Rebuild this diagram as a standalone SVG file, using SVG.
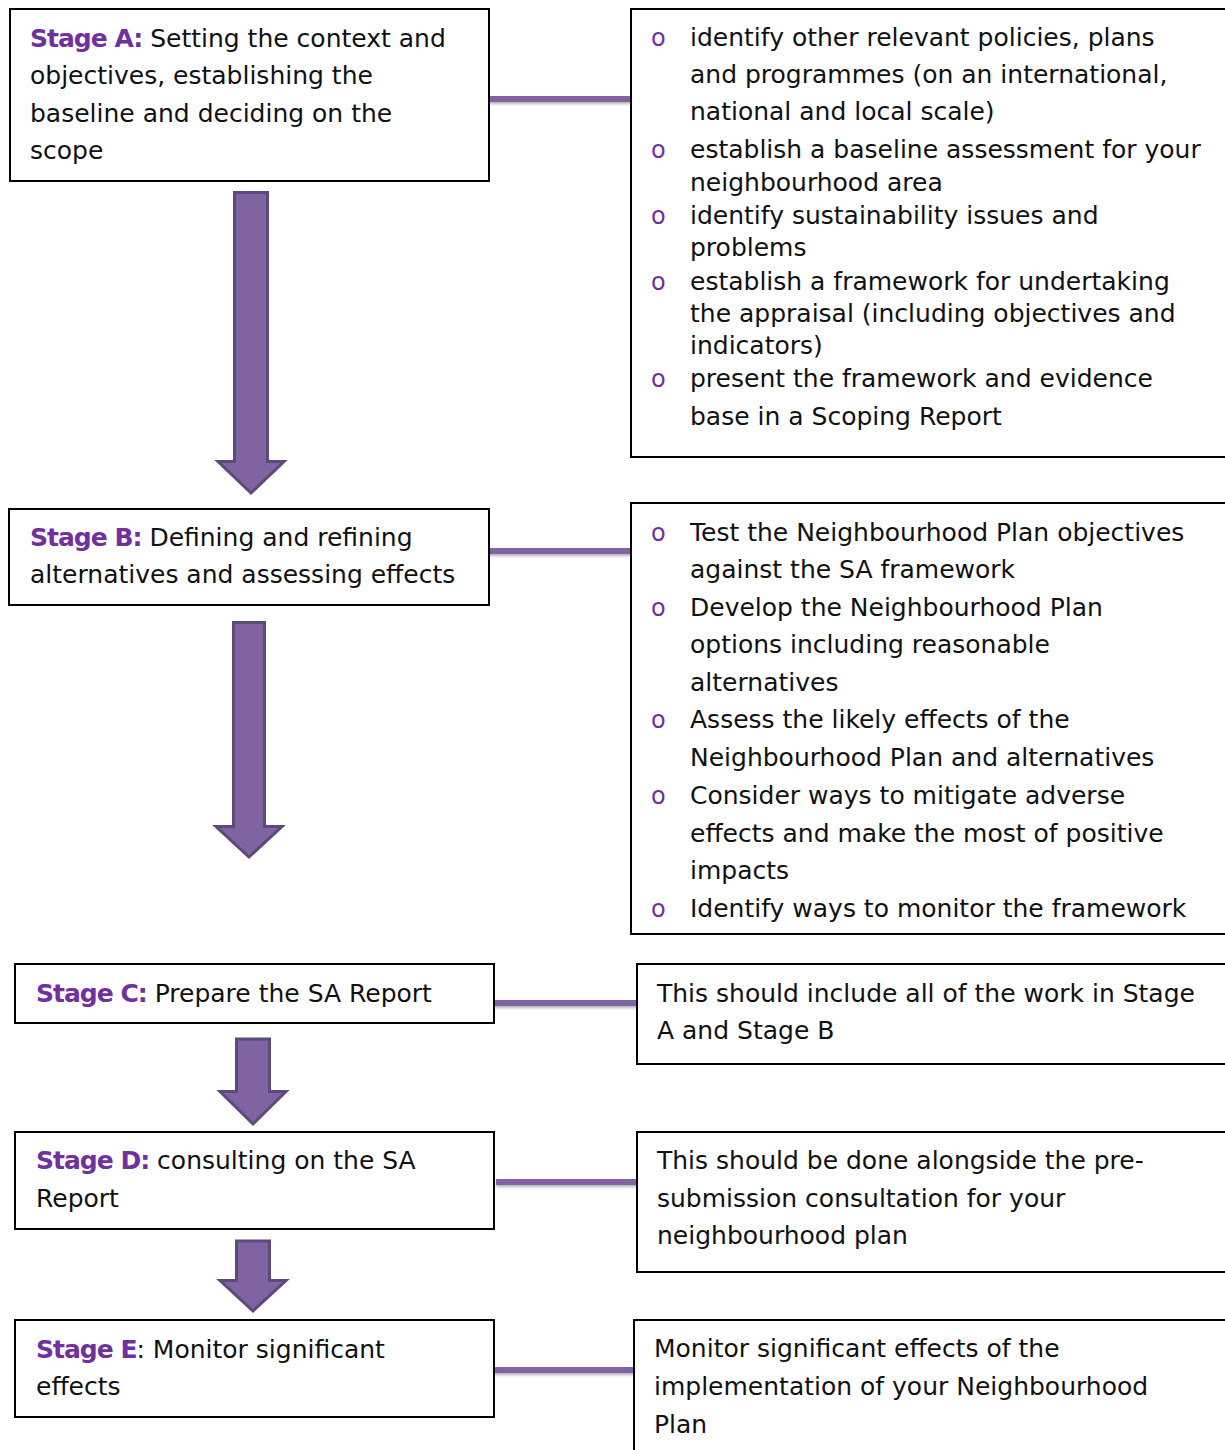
<svg xmlns="http://www.w3.org/2000/svg" width="1225" height="1450" viewBox="0 0 1225 1450">
<defs>
<style>
.box{fill:#fff;stroke:#000;stroke-width:2}
.t{font-family:"DejaVu Sans","Liberation Sans",sans-serif;font-size:25px;fill:#111}
.s{font-weight:bold;fill:#7030a0;letter-spacing:-1px}
.b{font-family:"DejaVu Sans","Liberation Sans",sans-serif;font-size:24px;fill:#7030a0}
.arr{fill:#8064a2;stroke:#5c4a7b;stroke-width:3;stroke-linejoin:miter}
.con{fill:#8064a2}
</style>
<filter id="sh" filterUnits="userSpaceOnUse" x="0" y="0" width="1225" height="1450">
<feDropShadow dx="0" dy="2" stdDeviation="1.5" flood-color="#000" flood-opacity="0.3"/>
</filter>
</defs>
<rect width="1225" height="1450" fill="#fff"/>

<g id="connectors">
<g filter="url(#sh)">
<rect class="con" x="489" y="96" width="142" height="6"/>
<rect class="con" x="489" y="548" width="142" height="6"/>
<rect class="con" x="494" y="1000" width="143" height="6"/>
<rect class="con" x="496" y="1179" width="141" height="6"/>
<rect class="con" x="494" y="1367" width="140" height="6"/>
</g>
<path class="arr" d="M234.5,192.5 H267.5 V461.5 H284 L251,493 L218,461.5 H234.5 Z"/>
<path class="arr" d="M233.5,622.5 H264.5 V826.5 H282 L249,857 L216,826.5 H233.5 Z"/>
<path class="arr" d="M236.5,1039 H269.5 V1091.5 H286 L253,1124 L220,1091.5 H236.5 Z"/>
<path class="arr" d="M236.5,1241 H269.5 V1280.5 H286 L253,1311 L220,1280.5 H236.5 Z"/>
</g>

<g id="stageA">
<rect class="box" x="10" y="9" width="479" height="172"/>
<text class="t" x="30" y="47"><tspan class="s">Stage A:</tspan> Setting the context and</text>
<text class="t" x="30" y="84">objectives, establishing the</text>
<text class="t" x="30" y="122">baseline and deciding on the</text>
<text class="t" x="30" y="159">scope</text>
</g>

<g id="stageA-detail">
<rect class="box" x="631" y="9" width="700" height="448"/>
<text class="b" x="651" y="46">o</text>
<text class="t" x="690" y="46">identify other relevant policies, plans</text>
<text class="t" x="690" y="83">and programmes (on an international,</text>
<text class="t" x="690" y="120">national and local scale)</text>
<text class="b" x="651" y="158">o</text>
<text class="t" x="690" y="158">establish a baseline assessment for your</text>
<text class="t" x="690" y="191">neighbourhood area</text>
<text class="b" x="651" y="224">o</text>
<text class="t" x="690" y="224">identify sustainability issues and</text>
<text class="t" x="690" y="256">problems</text>
<text class="b" x="651" y="290">o</text>
<text class="t" x="690" y="290">establish a framework for undertaking</text>
<text class="t" x="690" y="322">the appraisal (including objectives and</text>
<text class="t" x="690" y="354">indicators)</text>
<text class="b" x="651" y="387">o</text>
<text class="t" x="690" y="387">present the framework and evidence</text>
<text class="t" x="690" y="425">base in a Scoping Report</text>
</g>

<g id="stageB">
<rect class="box" x="9" y="509" width="480" height="96"/>
<text class="t" x="30" y="546"><tspan class="s">Stage B:</tspan> Defining and refining</text>
<text class="t" x="30" y="583">alternatives and assessing effects</text>
</g>

<g id="stageB-detail">
<rect class="box" x="631" y="503" width="700" height="431"/>
<text class="b" x="651" y="541">o</text>
<text class="t" x="690" y="541">Test the Neighbourhood Plan objectives</text>
<text class="t" x="690" y="578">against the SA framework</text>
<text class="b" x="651" y="616">o</text>
<text class="t" x="690" y="616">Develop the Neighbourhood Plan</text>
<text class="t" x="690" y="653">options including reasonable</text>
<text class="t" x="690" y="691">alternatives</text>
<text class="b" x="651" y="728">o</text>
<text class="t" x="690" y="728">Assess the likely effects of the</text>
<text class="t" x="690" y="766">Neighbourhood Plan and alternatives</text>
<text class="b" x="651" y="804">o</text>
<text class="t" x="690" y="804">Consider ways to mitigate adverse</text>
<text class="t" x="690" y="842">effects and make the most of positive</text>
<text class="t" x="690" y="879">impacts</text>
<text class="b" x="651" y="917">o</text>
<text class="t" x="690" y="917">Identify ways to monitor the framework</text>
</g>

<g id="stageC">
<rect class="box" x="15" y="964" width="479" height="59"/>
<text class="t" x="36" y="1002"><tspan class="s">Stage C:</tspan> Prepare the SA Report</text>
</g>

<g id="stageC-detail">
<rect class="box" x="637" y="964" width="700" height="100"/>
<text class="t" x="657" y="1002">This should include all of the work in Stage</text>
<text class="t" x="657" y="1039">A and Stage B</text>
</g>

<g id="stageD">
<rect class="box" x="15" y="1132" width="479" height="97"/>
<text class="t" x="36" y="1169"><tspan class="s">Stage D:</tspan> consulting on the SA</text>
<text class="t" x="36" y="1207">Report</text>
</g>

<g id="stageD-detail">
<rect class="box" x="637" y="1132" width="700" height="140"/>
<text class="t" x="657" y="1169">This should be done alongside the pre-</text>
<text class="t" x="657" y="1207">submission consultation for your</text>
<text class="t" x="657" y="1244">neighbourhood plan</text>
</g>

<g id="stageE">
<rect class="box" x="15" y="1320" width="479" height="97"/>
<text class="t" x="36" y="1358"><tspan class="s">Stage E</tspan>: Monitor significant</text>
<text class="t" x="36" y="1395">effects</text>
</g>

<g id="stageE-detail">
<rect class="box" x="634" y="1320" width="700" height="160"/>
<text class="t" x="654" y="1357">Monitor significant effects of the</text>
<text class="t" x="654" y="1395">implementation of your Neighbourhood</text>
<text class="t" x="654" y="1433">Plan</text>
</g>
</svg>
